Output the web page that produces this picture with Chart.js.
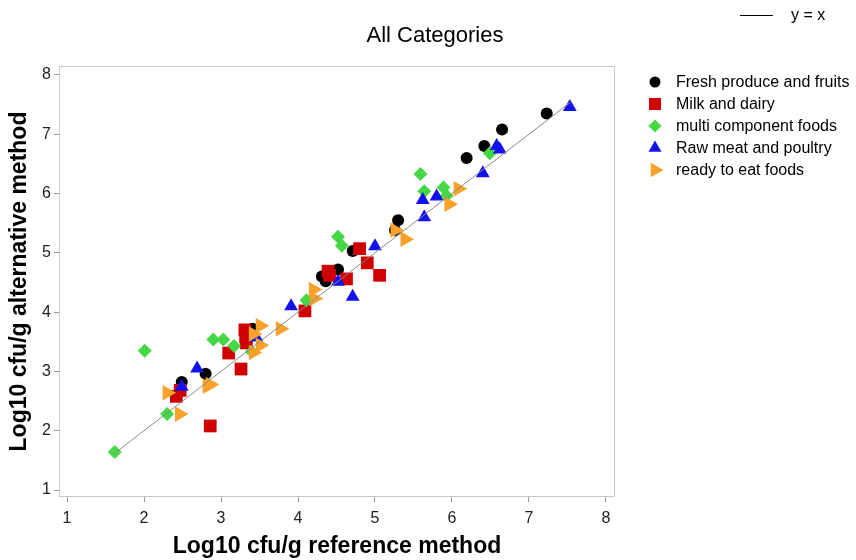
<!DOCTYPE html>
<html>
<head>
<meta charset="utf-8">
<script src="https://cdn.jsdelivr.net/npm/chart.js@4"></script>
<style>
  body { margin: 0; background: #fff; }
</style>
</head>
<body>
<canvas id="scatter" width="856" height="560"></canvas>
<script>
// ---- data (log10 cfu/g: [reference, alternative]) ----
const TICKS = [1, 2, 3, 4, 5, 6, 7, 8];
const IDENTITY_X = [1.6, 7.55];

const freshProduce = [
  [2.49, 2.82], [2.80, 2.96], [3.41, 3.72], [4.31, 4.60], [4.36, 4.52], [4.52, 4.72], [4.71, 5.03],
  [5.26, 5.38], [5.30, 5.55], [6.19, 6.60], [6.42, 6.80], [6.65, 7.08], [7.23, 7.35]
];
const milkDairy = [
  [2.42, 2.58], [2.47, 2.68], [2.86, 2.08], [3.10, 3.31], [3.26, 3.04], [3.31, 3.70], [3.32, 3.58],
  [3.33, 3.48], [4.09, 4.02], [4.39, 4.69], [4.41, 4.62], [4.63, 4.56], [4.80, 5.07], [4.90, 4.83], [5.06, 4.62]
];
const multiComponent = [
  [1.62, 1.64], [2.01, 3.35], [2.30, 2.28], [2.90, 3.54], [3.03, 3.54], [3.17, 3.43], [3.40, 3.33],
  [4.11, 4.20], [4.52, 5.27], [4.57, 5.12], [5.59, 6.33], [5.64, 6.04], [5.89, 6.10], [5.93, 5.96], [6.49, 6.68]
];
const rawMeat = [
  [2.49, 2.74], [2.69, 3.05], [3.44, 3.59], [3.46, 3.57], [3.91, 4.10], [4.52, 4.51], [4.71, 4.26],
  [5.00, 5.11], [5.62, 5.89], [5.64, 5.60], [5.80, 5.95], [6.40, 6.34], [6.58, 6.80], [6.62, 6.74], [7.53, 7.46]
];
const readyToEat = [
  [2.30, 2.64], [2.46, 2.28], [2.82, 2.75], [2.86, 2.78], [3.42, 3.63], [3.42, 3.32], [3.51, 3.77],
  [3.51, 3.44], [3.77, 3.72], [4.20, 4.38], [4.21, 4.23], [5.26, 5.38], [5.39, 5.23], [5.96, 5.82], [6.08, 6.08]
];

const toPts = arr => arr.map(p => ({ x: p[0], y: p[1] }));

const series = [
  { label: "Fresh produce and fruits", data: freshProduce, color: "#000000", style: "circle", radius: 6, rotation: 0 },
  { label: "Milk and dairy", data: milkDairy, color: "#d10000", style: "rect", radius: 9, rotation: 0 },
  { label: "multi component foods", data: multiComponent, color: "#45d845", style: "rectRot", radius: 7, rotation: 0 },
  { label: "Raw meat and poultry", data: rawMeat, color: "#1212ec", style: "triangle", radius: 8, rotation: 0 },
  { label: "ready to eat foods", data: readyToEat, color: "#f8a12b", style: "triangle", radius: 9, rotation: 90 }
];

const FONT = "'Liberation Sans', Arial, sans-serif";

const datasets = series.map((s, i) => ({
  type: "scatter",
  label: s.label,
  data: toPts(s.data),
  backgroundColor: s.color,
  borderColor: s.color,
  borderWidth: 0,
  pointStyle: s.style,
  pointRadius: s.radius,
  pointRotation: s.rotation,
  order: series.length - i
}));

datasets.push({
  type: "line",
  label: "y = x",
  data: IDENTITY_X.map(v => ({ x: v, y: v })),
  borderColor: "#8a8a8a",
  borderWidth: 1,
  pointRadius: 0,
  fill: false,
  order: 0
});

// frame, title and legends drawn on the canvas
const decorations = {
  id: "decorations",
  beforeDraw(chart) {
    const ctx = chart.ctx;
    ctx.save();
    ctx.fillStyle = "#fff";
    ctx.fillRect(0, 0, chart.width, chart.height);
    ctx.restore();
  },
  afterDraw(chart) {
    const ctx = chart.ctx;
    const a = chart.chartArea;
    ctx.save();
    ctx.strokeStyle = "#c9c9c9";
    ctx.lineWidth = 1;
    ctx.strokeRect(a.left + 0.5, a.top + 0.5, a.right - a.left - 1, a.bottom - a.top - 1);

    ctx.fillStyle = "#000";
    ctx.textBaseline = "middle";
    ctx.textAlign = "center";
    ctx.font = "22px " + FONT;
    ctx.fillText("All Categories", 435, 36);

    // y = x key
    ctx.strokeStyle = "#000";
    ctx.beginPath();
    ctx.moveTo(740, 15.5);
    ctx.lineTo(773, 15.5);
    ctx.stroke();
    ctx.textAlign = "left";
    ctx.font = "16px " + FONT;
    ctx.fillText("y = x", 791, 16);

    series.forEach((s, i) => {
      const y = 82 + i * 22;
      ctx.fillStyle = s.color;
      ctx.strokeStyle = s.color;
      Chart.helpers.drawPoint(ctx, {
        pointStyle: s.style, radius: s.radius - 0.5, rotation: s.rotation, borderWidth: 0
      }, 655, y);
      ctx.fillStyle = "#000";
      ctx.fillText(s.label, 676, y + 1);
    });
    ctx.restore();
  }
};

new Chart(document.getElementById("scatter"), {
  type: "scatter",
  data: { datasets },
  plugins: [decorations],
  options: {
    responsive: false,
    animation: false,
    layout: { padding: { left: 0, right: 241, top: 66, bottom: 0 } },
    plugins: {
      legend: { display: false },
      tooltip: { enabled: false },
      title: { display: false }
    },
    scales: {
      x: {
        type: "linear",
        min: 0.896,
        max: 8.117,
        afterBuildTicks: axis => { axis.ticks = TICKS.map(v => ({ value: v })); },
        afterFit: axis => { axis.height = 63; },
        grid: { drawOnChartArea: false, tickLength: 5, color: "#999" },
        border: { display: false },
        ticks: { font: { size: 16, family: FONT }, color: "#222", padding: 7 },
        title: {
          display: true,
          text: "Log10 cfu/g reference method",
          color: "#000",
          font: { size: 23, weight: "bold", family: FONT },
          padding: { top: 4, bottom: 0 }
        }
      },
      y: {
        type: "linear",
        min: 0.882,
        max: 8.15,
        afterBuildTicks: axis => { axis.ticks = TICKS.map(v => ({ value: v })); },
        afterFit: axis => { axis.width = 59; },
        grid: { drawOnChartArea: false, tickLength: 5, color: "#999" },
        border: { display: false },
        ticks: { font: { size: 16, family: FONT }, color: "#222", padding: 3 },
        title: {
          display: true,
          text: "Log10 cfu/g alternative method",
          color: "#000",
          font: { size: 23, weight: "bold", family: FONT },
          padding: { top: 6, bottom: 0 }
        }
      }
    }
  }
});
</script>
</body>
</html>
